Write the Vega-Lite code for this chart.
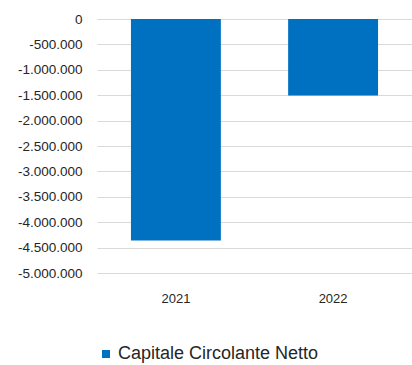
{
  "$schema": "https://vega.github.io/schema/vega-lite/v6.json",
  "autosize": {"type": "none"},
  "width": 315,
  "height": 254,
  "padding": {"left": 97, "top": 19, "right": 0, "bottom": 92},
  "background": "white",
  "config": {
    "locale": {"number": {"decimal": ",", "thousands": ".", "grouping": [3], "currency": ["€", ""], "minus": "-"}},
    "view": {"stroke": null},
    "font": "Liberation Sans"
  },
  "data": {
    "values": [
      {"anno": "2021", "serie": "Capitale Circolante Netto", "valore": -4360000},
      {"anno": "2022", "serie": "Capitale Circolante Netto", "valore": -1505000}
    ]
  },
  "mark": {"type": "bar", "color": "#0070C0"},
  "encoding": {
    "x": {
      "field": "anno", "type": "nominal",
      "scale": {"paddingInner": 0.428, "paddingOuter": 0.216},
      "axis": {"title": null, "labelAngle": 0, "domain": false, "ticks": false, "labelPadding": 19, "labelFontSize": 13, "labelColor": "#262626", "labelFont": "Liberation Sans"}
    },
    "y": {
      "field": "valore", "type": "quantitative",
      "scale": {"domain": [-5000000, 0], "nice": false, "zero": true},
      "axis": {"title": null, "values": [0, -500000, -1000000, -1500000, -2000000, -2500000, -3000000, -3500000, -4000000, -4500000, -5000000], "format": ",.0f", "domain": false, "ticks": false, "labelPadding": 15, "labelFontSize": 13.5, "labelColor": "#262626", "labelFont": "Liberation Sans", "gridColor": "#D9D9D9", "gridWidth": 1}
    },
    "color": {
      "field": "serie", "type": "nominal",
      "scale": {"range": ["#0070C0"]},
      "legend": {"title": null, "orient": "none", "legendX": 0, "legendY": 326, "padding": 0, "symbolType": "square", "symbolSize": 64, "symbolStrokeWidth": 0, "labelFontSize": 18, "labelColor": "#262626", "labelFont": "Liberation Sans", "labelOffset": 3, "labelLimit": 400}
    }
  }
}
